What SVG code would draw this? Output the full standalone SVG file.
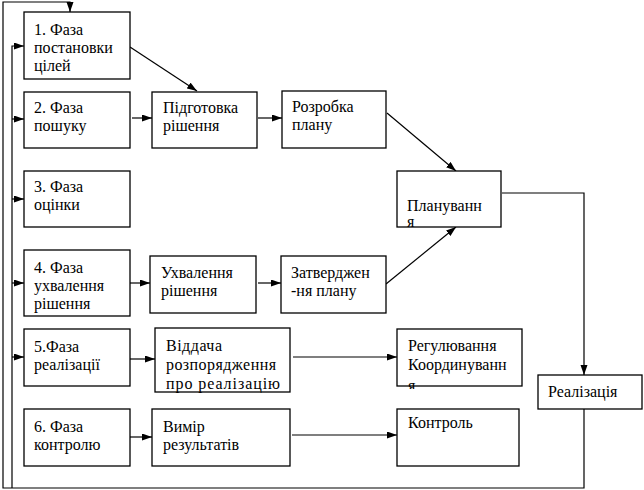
<svg xmlns="http://www.w3.org/2000/svg" width="644" height="490" viewBox="0 0 644 490">
<style>
.b{fill:#fff;stroke:#000;stroke-width:1.3}
.t{font-family:"Liberation Serif","Times New Roman",serif;font-size:16px;fill:#000}
.c line,.c polyline{fill:none;stroke:#000;stroke-width:1.2}
.a{marker-end:url(#ah)}
</style>
<defs>
<marker id="ah" markerUnits="userSpaceOnUse" markerWidth="11" markerHeight="8" refX="10" refY="3.5" orient="auto">
<path d="M0,0 L10,3.5 L0,7 z" fill="#000"/>
</marker>
<clipPath id="cr"><rect x="397" y="329" width="126" height="60"/></clipPath>
</defs>
<rect width="644" height="490" fill="#fff"/>
<g class="c" id="connectors">
<polyline points="584,409 584,488 3,488 3,2 70,2 70,12" class="a"/>
<polyline points="12,488 12,46 24,46" class="a"/>
<line x1="12" y1="119" x2="24" y2="119" class="a"/>
<line x1="12" y1="199" x2="24" y2="199" class="a"/>
<line x1="12" y1="283" x2="24" y2="283" class="a"/>
<line x1="12" y1="357" x2="24" y2="357" class="a"/>
<line x1="130" y1="47" x2="197" y2="91" class="a"/>
<line x1="132" y1="118" x2="152" y2="118" class="a"/>
<line x1="258" y1="118" x2="282" y2="118" class="a"/>
<line x1="387" y1="113" x2="456" y2="171" class="a"/>
<line x1="386" y1="284" x2="456" y2="227" class="a"/>
<polyline points="502,193 584,193 584,375" class="a"/>
<line x1="130" y1="283" x2="150" y2="283" class="a"/>
<line x1="258" y1="283" x2="281" y2="283" class="a"/>
<line x1="130" y1="359" x2="155" y2="359" class="a"/>
<line x1="293" y1="357" x2="397" y2="357" class="a"/>
<line x1="130" y1="437" x2="152" y2="437" class="a"/>
<line x1="292" y1="435" x2="397" y2="435" class="a"/>
</g>
<g id="phase1"><rect class="b" x="24" y="12" width="106" height="67"/>
<text class="t" x="34" y="35">1. Фаза</text><text class="t" x="34" y="53">постановки</text><text class="t" x="34" y="71">цілей</text></g>
<g id="phase2"><rect class="b" x="24" y="92" width="106" height="56"/>
<text class="t" x="34" y="113">2. Фаза</text><text class="t" x="34" y="131">пошуку</text></g>
<g id="prep"><rect class="b" x="152" y="92" width="105" height="56"/>
<text class="t" x="163" y="113">Підготовка</text><text class="t" x="163" y="131">рішення</text></g>
<g id="plan-dev"><rect class="b" x="282" y="91" width="104" height="57"/>
<text class="t" x="292" y="112">Розробка</text><text class="t" x="292" y="130">плану</text></g>
<g id="planning"><rect class="b" x="397" y="171" width="104" height="56"/>
<text class="t" x="407" y="211">Плануванн</text><text class="t" x="407" y="227">я</text></g>
<g id="phase3"><rect class="b" x="24" y="171" width="106" height="56"/>
<text class="t" x="34" y="192">3. Фаза</text><text class="t" x="34" y="210">оцінки</text></g>
<g id="phase4"><rect class="b" x="24" y="250" width="106" height="66"/>
<text class="t" x="34" y="273">4. Фаза</text><text class="t" x="34" y="291">ухвалення</text><text class="t" x="34" y="309">рішення</text></g>
<g id="approve"><rect class="b" x="150" y="256" width="106" height="57"/>
<text class="t" x="161" y="278">Ухвалення</text><text class="t" x="161" y="296">рішення</text></g>
<g id="confirm"><rect class="b" x="281" y="256" width="105" height="57"/>
<text class="t" x="291" y="278">Затверджен</text><text class="t" x="291" y="296">-ня плану</text></g>
<g id="phase5"><rect class="b" x="24" y="329" width="106" height="57"/>
<text class="t" x="34" y="352">5.Фаза</text><text class="t" x="34" y="370">реалізації</text></g>
<g id="order"><rect class="b" x="155" y="328" width="135" height="64"/>
<text class="t" x="166" y="351" textLength="56">Віддача</text><text class="t" x="166" y="370" textLength="110">розпорядження</text><text class="t" x="166" y="389" textLength="114">про реалізацію</text></g>
<g id="regulate"><rect class="b" x="397" y="329" width="125" height="57"/>
<text class="t" x="408" y="351">Регулювання</text><text class="t" x="408" y="370">Координуванн</text><text class="t" x="408" y="391" clip-path="url(#cr)">я</text></g>
<g id="realization"><rect class="b" x="538" y="375" width="104" height="34"/>
<text class="t" x="548" y="397">Реалізація</text></g>
<g id="phase6"><rect class="b" x="24" y="409" width="106" height="57"/>
<text class="t" x="34" y="432">6. Фаза</text><text class="t" x="34" y="450">контролю</text></g>
<g id="measure"><rect class="b" x="152" y="409" width="138" height="57"/>
<text class="t" x="163" y="432">Вимір</text><text class="t" x="163" y="450">результатів</text></g>
<g id="control"><rect class="b" x="397" y="409" width="122" height="57"/>
<text class="t" x="408" y="428">Контроль</text></g>
</svg>
